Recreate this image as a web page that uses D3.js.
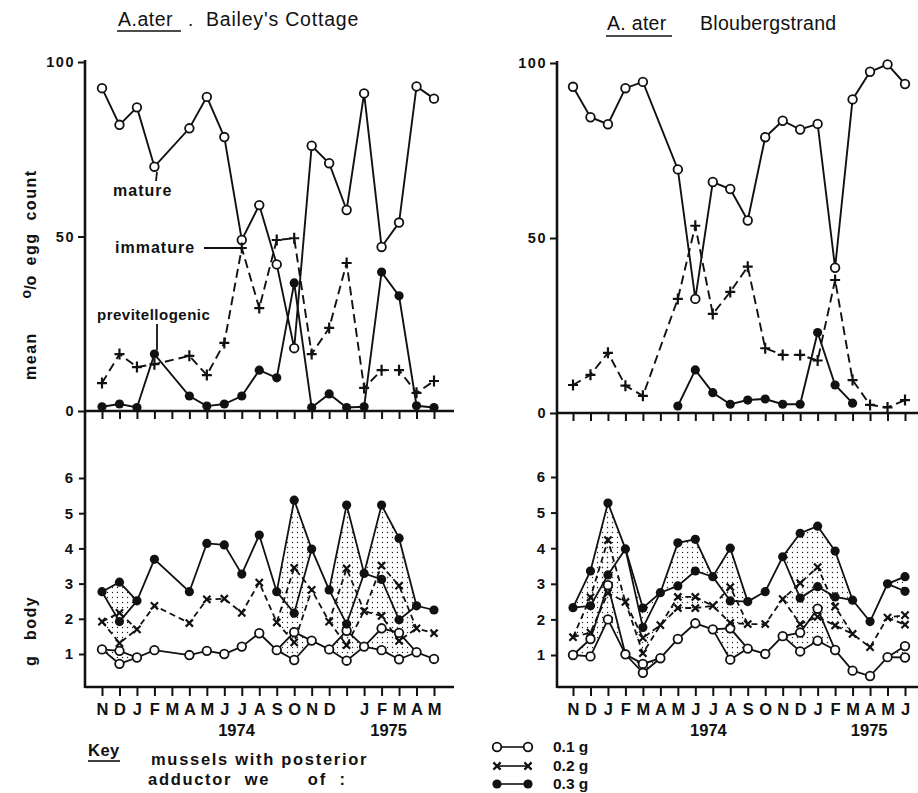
<!DOCTYPE html>
<html><head><meta charset="utf-8">
<script src="https://cdn.jsdelivr.net/npm/d3@7/dist/d3.min.js"></script>
<style>body{margin:0;background:#fff} svg{display:block} text{white-space:pre}</style>
</head><body>
<svg id="c" width="918" height="793"></svg>
<script>
// ---------- DATA ----------
const monthsLeft  = ["N","D","J","F","M","A","M","J","J","A","S","O","N","D","","J","F","M","A","M"];
const monthsRight = ["N","D","J","F","M","A","M","J","J","A","S","O","N","D","J","F","M","A","M","J"];
const upperTicks = [0, 50, 100];
const lowerTicks = [1, 2, 3, 4, 5, 6];

// Bailey's Cottage – mean % egg count
const bc_mature    = [92.5,82,87,70,null,81,90,78.5,49,59,42,18,76,71,57.6,91,47,54,93,89.5];
const bc_immature  = [8,16.3,12.6,13.4,null,15.8,10.3,19.5,46.7,29.5,49,49.5,16.3,23.8,42.4,6.6,11.7,11.7,5.2,8.6];
const bc_previt    = [1.2,2,1,16.3,null,4.3,1.4,2,4.3,11.7,9.5,36.7,1,4.9,1,1.2,39.8,33,1.5,1];
// Bloubergstrand – mean % egg count
const bl_mature    = [93.2,84.5,82.5,92.8,94.6,null,69.6,32.6,66,64,55,78.8,83.5,81,82.6,41.5,89.6,97.5,99.6,94];
const bl_immature  = [8,10.9,17.2,7.8,4.9,null,32.6,53.5,28.3,34.6,41.8,18.5,16.6,16.6,15,38,9.4,2.3,1.6,3.7];
const bl_previt    = [null,null,null,null,null,null,2,12.3,5.8,2.5,3.7,4,2.5,2.5,23,8,2.8,null,null,null];

// Bailey's Cottage – g body (a = upper estimate, b = lower estimate where split)
const bc_w01_a = [1.13,1.09,0.9,1.11,null,0.97,1.09,1.0,1.21,1.59,1.11,1.62,1.38,1.13,1.66,1.21,1.73,1.6,1.05,0.86];
const bc_w01_b = [null,0.72,null,null,null,null,null,null,null,null,null,0.83,null,null,0.81,null,1.11,0.85,null,null];
const bc_w02_a = [1.92,2.17,1.7,2.37,null,1.88,2.55,2.57,2.17,3.03,1.9,3.45,2.82,1.92,3.43,2.22,3.51,2.94,1.73,1.59];
const bc_w02_b = [null,1.31,null,null,null,null,null,null,null,null,null,1.33,null,null,1.25,null,2.08,1.37,null,null];
const bc_w03_a = [2.77,3.04,2.51,3.69,null,2.77,4.14,4.1,3.27,4.38,2.77,5.37,3.98,2.82,5.23,3.29,5.23,4.29,2.37,2.25];
const bc_w03_b = [null,1.92,null,null,null,null,null,null,null,null,null,2.16,null,null,1.85,null,3.12,1.97,null,null];
// Bloubergstrand – g body
const bl_w01_a = [1.0,1.45,2.96,1.02,0.75,0.91,1.45,1.89,1.72,1.75,1.18,1.03,1.53,1.63,2.3,1.14,0.56,0.41,0.94,1.25];
const bl_w01_b = [null,0.96,2.0,null,0.5,null,null,null,null,0.87,null,null,null,1.1,1.4,null,null,null,null,0.93];
const bl_w02_a = [1.5,2.62,4.23,2.49,1.48,1.84,2.63,2.63,2.38,2.91,1.87,1.87,2.57,3.02,3.47,2.36,1.59,1.22,2.05,2.12];
const bl_w02_b = [null,1.63,2.74,null,1.05,null,2.32,2.32,null,1.9,null,null,null,1.87,2.07,1.83,null,null,null,1.85];
const bl_w03_a = [2.33,3.36,5.27,3.98,2.32,2.75,4.15,4.25,3.2,4.0,2.5,2.78,3.76,4.42,4.62,3.92,2.54,1.94,3.0,3.2];
const bl_w03_b = [null,2.38,3.25,null,1.77,null,2.94,3.36,null,2.52,null,null,null,2.6,2.92,2.63,null,null,null,2.79];

const legendLabels = ["0.1 g","0.2 g","0.3 g"];

// ---------- DRAW ----------
const FONT = "'Liberation Sans', Arial, Helvetica, sans-serif";
const INK = "#111";
const svg = d3.select("#c");
svg.append("rect").attr("width",918).attr("height",793).attr("fill","#fff");
const defs = svg.append("defs");
const pat = defs.append("pattern").attr("id","dots").attr("width",5).attr("height",5)
  .attr("patternUnits","userSpaceOnUse");
pat.append("circle").attr("cx",2.5).attr("cy",2.5).attr("r",0.7).attr("fill","#222");

const styles = {
  mature:{dash:null, marker:"open"},
  immature:{dash:"9,5", marker:"plus"},
  previt:{dash:null, marker:"dot"},
  w01:{dash:null, marker:"open"},
  w02:{dash:"6,4", marker:"cross"},
  w03:{dash:null, marker:"dot"}
};

function marker(g, type, cx, cy){
  if(type==="open"){
    g.append("circle").attr("cx",cx).attr("cy",cy).attr("r",4.3)
      .attr("fill","#fff").attr("stroke",INK).attr("stroke-width",1.8);
  } else if(type==="dot"){
    g.append("circle").attr("cx",cx).attr("cy",cy).attr("r",4.6).attr("fill",INK);
  } else if(type==="plus"){
    g.append("path").attr("d",`M${cx-5},${cy}H${cx+5}M${cx},${cy-5.5}V${cy+5.5}`)
      .attr("stroke",INK).attr("stroke-width",2.2).attr("fill","none");
  } else if(type==="cross"){
    g.append("path").attr("d",`M${cx-3.6},${cy-3.6}L${cx+3.6},${cy+3.6}M${cx-3.6},${cy+3.6}L${cx+3.6},${cy-3.6}`)
      .attr("stroke",INK).attr("stroke-width",2.2).attr("fill","none");
  }
}

const panels = [
  { x0:85, x1:454, range:[102,434], upRange:[411,62], upAxis:411, loRange:[689.2,478], loAxis:687,
    months:monthsLeft,
    upper:[["mature",bc_mature],["immature",bc_immature],["previt",bc_previt]],
    lower:[["w01",bc_w01_a,bc_w01_b],["w02",bc_w02_a,bc_w02_b],["w03",bc_w03_a,bc_w03_b]],
    years:[[7.7,"1974"],[16.4,"1975"]] },
  { x0:557, x1:918, range:[573,905], upRange:[413,63], upAxis:413, loRange:[690.6,477], loAxis:687,
    months:monthsRight,
    upper:[["mature",bl_mature],["immature",bl_immature],["previt",bl_previt]],
    lower:[["w01",bl_w01_a,bl_w01_b],["w02",bl_w02_a,bl_w02_b],["w03",bl_w03_a,bl_w03_b]],
    years:[[7.75,"1974"],[16.95,"1975"]] }
];

panels.forEach(p=>{
  const g = svg.append("g");
  const x = d3.scalePoint().domain(d3.range(20)).range(p.range);
  const step = x.step();
  const yU = d3.scaleLinear().domain([0,100]).range(p.upRange);
  const yL = d3.scaleLinear().domain([0,6]).range(p.loRange);

  // axes frames
  g.append("line").attr("x1",p.x0).attr("x2",p.x0).attr("y1",p.upRange[1]-2).attr("y2",p.loAxis+1)
    .attr("stroke",INK).attr("stroke-width",2.6);
  g.append("line").attr("x1",p.x0).attr("x2",p.x1).attr("y1",p.upAxis).attr("y2",p.upAxis)
    .attr("stroke",INK).attr("stroke-width",2.4);
  g.append("line").attr("x1",p.x0).attr("x2",p.x1).attr("y1",p.loAxis).attr("y2",p.loAxis)
    .attr("stroke",INK).attr("stroke-width",2.6);

  // upper x ticks
  g.append("g").attr("transform",`translate(0,${p.upAxis})`)
    .call(d3.axisBottom(x).tickSize(8).tickFormat(""))
    .call(a=>{a.select(".domain").remove(); a.selectAll("line").attr("stroke",INK).attr("stroke-width",2);});
  // lower x ticks + month labels
  g.append("g").attr("transform",`translate(0,${p.loAxis})`)
    .call(d3.axisBottom(x).tickSize(9).tickPadding(7).tickFormat(i=>p.months[i]))
    .call(a=>{a.select(".domain").remove(); a.selectAll("line").attr("stroke",INK).attr("stroke-width",2);
      a.selectAll("text").attr("font-family",FONT).attr("font-weight","bold").attr("font-size",16.5).attr("fill",INK);});
  p.years.forEach(([pos,lab])=>{
    const i = Math.floor(pos);
    g.append("text").attr("x",x(i)+(pos-i)*step).attr("y",736).attr("text-anchor","middle")
      .attr("font-family",FONT).attr("font-weight","bold").attr("font-size",16.5).attr("fill",INK).text(lab);
  });

  // y axes
  g.append("g").attr("transform",`translate(${p.x0},0)`)
    .call(d3.axisLeft(yU).tickValues(upperTicks).tickSize(7).tickPadding(3).tickFormat(d3.format("d")))
    .call(a=>{a.select(".domain").remove(); a.selectAll("line").attr("stroke",INK).attr("stroke-width",2);
      a.selectAll("text").attr("font-family",FONT).attr("font-weight","bold").attr("font-size",14.5)
       .attr("letter-spacing",1.5).attr("fill",INK);});
  g.append("g").attr("transform",`translate(${p.x0},0)`)
    .call(d3.axisLeft(yL).tickValues(lowerTicks).tickSize(6).tickPadding(6).tickFormat(d3.format("d")))
    .call(a=>{a.select(".domain").remove(); a.selectAll("line").attr("stroke",INK).attr("stroke-width",2);
      a.selectAll("text").attr("font-family",FONT).attr("font-weight","bold").attr("font-size",15).attr("fill",INK);});

  // upper series
  p.upper.forEach(([type,vals])=>{
    const st = styles[type];
    const pts = vals.map((v,i)=>({i,v})).filter(d=>d.v!=null);
    g.append("path").datum(pts)
      .attr("d",d3.line().x(d=>x(d.i)).y(d=>yU(d.v)))
      .attr("fill","none").attr("stroke",INK).attr("stroke-width",1.9)
      .attr("stroke-dasharray",st.dash);
  });
  p.upper.forEach(([type,vals])=>{
    vals.forEach((v,i)=>{ if(v!=null) marker(g, styles[type].marker, x(i), yU(v)); });
  });

  // lower: shading between estimates
  p.lower.forEach(([type,a,b])=>{
    const pts = a.map((v,i)=>({i,hi:v,lo:(b[i]!=null?b[i]:v)})).filter(d=>d.hi!=null);
    g.append("path").datum(pts)
      .attr("d",d3.area().x(d=>x(d.i)).y0(d=>yL(d.lo)).y1(d=>yL(d.hi)))
      .attr("fill","url(#dots)").attr("stroke","none");
  });
  p.lower.forEach(([type,a,b])=>{
    const st = styles[type];
    const pts = a.map((v,i)=>({i,hi:v,lo:(b[i]!=null?b[i]:v),split:b[i]!=null})).filter(d=>d.hi!=null);
    g.append("path").datum(pts)
      .attr("d",d3.line().x(d=>x(d.i)).y(d=>yL(d.hi)))
      .attr("fill","none").attr("stroke",INK).attr("stroke-width",1.8).attr("stroke-dasharray",st.dash);
    const runs=[]; let cur=null;
    for(let k=0;k<pts.length-1;k++){
      if(pts[k].split||pts[k+1].split){
        if(cur && cur[cur.length-1]===pts[k]) cur.push(pts[k+1]);
        else { cur=[pts[k],pts[k+1]]; runs.push(cur); }
      } else cur=null;
    }
    runs.forEach(r=>{
      g.append("path").datum(r)
        .attr("d",d3.line().x(d=>x(d.i)).y(d=>yL(d.lo)))
        .attr("fill","none").attr("stroke",INK).attr("stroke-width",1.8).attr("stroke-dasharray",st.dash);
    });
  });
  p.lower.forEach(([type,a,b])=>{
    a.forEach((v,i)=>{
      if(v!=null) marker(g, styles[type].marker, x(i), yL(v));
      if(b[i]!=null) marker(g, styles[type].marker, x(i), yL(b[i]));
    });
  });
});

// ---------- TEXT ----------
function txt(x,y,s,opt={}){
  const t = svg.append("text").attr("x",x).attr("y",y).attr("font-family",FONT)
    .attr("font-size",opt.size||15).attr("font-weight",opt.bold?"bold":"normal")
    .attr("fill",INK).attr("text-anchor",opt.anchor||"start");
  if(opt.ls) t.attr("letter-spacing",opt.ls);
  if(opt.rot) t.attr("transform",`rotate(-90,${x},${y})`);
  t.text(s);
  return t;
}
// titles
txt(118,26,"A.ater",{size:19.5,ls:0.5});
svg.append("line").attr("x1",117).attr("x2",181).attr("y1",31).attr("y2",31).attr("stroke",INK).attr("stroke-width",1.6);
txt(188,26,".",{size:19});
txt(206,26,"Bailey's Cottage",{size:19.5,ls:0.8});
txt(607,30,"A. ater",{size:19.5,ls:0.3});
svg.append("line").attr("x1",606).attr("x2",672).attr("y1",36).attr("y2",36).attr("stroke",INK).attr("stroke-width",1.6);
txt(700,30,"Bloubergstrand",{size:19.5,ls:0.3});

// y titles (rotated)
txt(36,356,"mean",{size:16,bold:true,rot:true,anchor:"middle",ls:1.5});
const pc = txt(36,287,"",{size:16,bold:true,rot:true,anchor:"middle"});
pc.append("tspan").attr("baseline-shift","35%").attr("font-size",14).text("o");
pc.append("tspan").text("/o");
txt(36,249,"egg",{size:16,bold:true,rot:true,anchor:"middle",ls:1.5});
txt(36,195,"count",{size:16,bold:true,rot:true,anchor:"middle",ls:1.5});
txt(36,661,"g",{size:16,bold:true,rot:true,anchor:"middle"});
txt(36,618,"body",{size:16,bold:true,rot:true,anchor:"middle",ls:1.5});

// series annotations
txt(113,196,"mature",{size:16,bold:true,ls:1});
svg.append("line").attr("x1",157).attr("x2",156).attr("y1",172).attr("y2",181).attr("stroke",INK).attr("stroke-width",1.8);
txt(115,253,"immature",{size:16,bold:true,ls:1});
svg.append("line").attr("x1",204).attr("x2",237).attr("y1",248).attr("y2",248).attr("stroke",INK).attr("stroke-width",1.8);
txt(97,320,"previtellogenic",{size:15,bold:true,ls:0.5});
svg.append("line").attr("x1",157).attr("x2",157).attr("y1",324).attr("y2",350).attr("stroke",INK).attr("stroke-width",1.8);

// key
txt(88,756,"Key",{size:16.5,bold:true,ls:0.5});
svg.append("line").attr("x1",88).attr("x2",120).attr("y1",761).attr("y2",761).attr("stroke",INK).attr("stroke-width",1.6);
txt(151,765,"mussels with posterior",{size:16.5,bold:true,ls:1.7});
txt(148,785,"adductor  we      of  :",{size:16.5,bold:true,ls:1.7});

// legend
const lg = svg.append("g");
const legTypes = ["open","cross","dot"];
[747,766,784].forEach((yy,k)=>{
  lg.append("line").attr("x1",497).attr("x2",528).attr("y1",yy).attr("y2",yy).attr("stroke",INK).attr("stroke-width",1.6);
  marker(lg, legTypes[k], 497, yy);
  marker(lg, legTypes[k], 528, yy);
  lg.append("text").attr("x",553).attr("y",yy+5).attr("font-family",FONT).attr("font-weight","bold")
    .attr("font-size",15.5).attr("fill",INK).text(legendLabels[k]);
});
</script>
</body></html>
